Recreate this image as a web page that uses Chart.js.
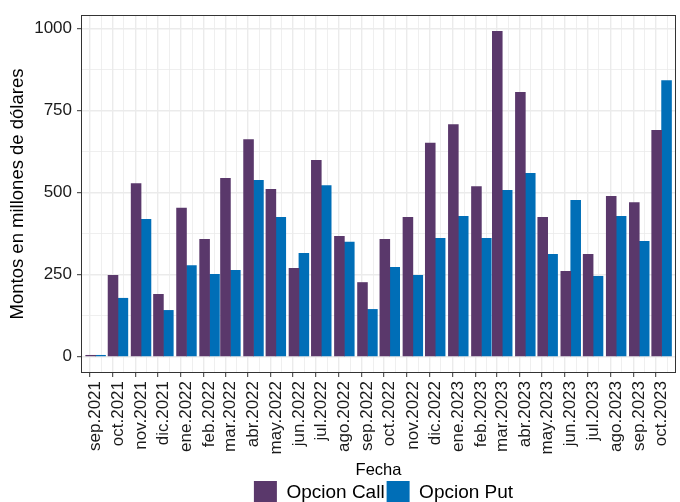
<!DOCTYPE html>
<html>
<head>
<meta charset="utf-8">
<script src="https://cdn.jsdelivr.net/npm/chart.js@4"></script>
<style>
html,body{margin:0;padding:0;background:#fff;overflow:hidden}
canvas{display:block}
</style>
</head>
<body>
<canvas id="c" width="680" height="514"></canvas>
<script>
// ---- data ----
const monthDates = ['2021-09-01','2021-10-01','2021-11-01','2021-12-01','2022-01-01','2022-02-01','2022-03-01','2022-04-01','2022-05-01','2022-06-01','2022-07-01','2022-08-01','2022-09-01','2022-10-01','2022-11-01','2022-12-01','2023-01-01','2023-02-01','2023-03-01','2023-04-01','2023-05-01','2023-06-01','2023-07-01','2023-08-01','2023-09-01','2023-10-01'];
const tickLabels = ['sep.2021','oct.2021','nov.2021','dic.2021','ene.2022','feb.2022','mar.2022','abr.2022','may.2022','jun.2022','jul.2022','ago.2022','sep.2022','oct.2022','nov.2022','dic.2022','ene.2023','feb.2023','mar.2023','abr.2023','may.2023','jun.2023','jul.2023','ago.2023','sep.2023','oct.2023'];
const opcionCall = [4, 248, 528, 190, 453, 358, 544, 662, 510, 269, 599, 367, 226, 358, 425, 651, 708, 519, 992, 806, 425, 260, 312, 489, 470, 690];
const opcionPut  = [4, 178, 419, 141, 278, 251, 263, 538, 425, 315, 522, 349, 144, 272, 248, 361, 428, 361, 507, 559, 312, 477, 245, 428, 352, 842];
const yTickValues = [0, 250, 500, 750, 1000];

// ---- derived (x as days since first month) ----
const DAY = 86400000;
const t0 = Date.parse(monthDates[0]);
const xDays = monthDates.map(d => Math.round((Date.parse(d) - t0) / DAY));
const xMinor = xDays.slice(1).map((d, i) => (d + xDays[i]) / 2);
const xAllTicks = xDays.concat(xMinor).sort((a, b) => a - b);
const yMinor = yTickValues.slice(1).map((v, i) => (v + yTickValues[i]) / 2);
const yAllTicks = yTickValues.concat(yMinor).sort((a, b) => a - b);

const FONT = '"Liberation Sans", Arial, Helvetica, sans-serif';
const GRID = '#ebebeb';
const AXIS = '#333333';

const isMajorX = ctx => ctx.tick && xDays.includes(ctx.tick.value);
const isMajorY = ctx => ctx.tick && yTickValues.includes(ctx.tick.value);

const framePlugin = {
  id: 'frame',
  afterLayout(chart) {
    // centre the legend like the reference (slightly right of the panel centre)
    if (chart.legend) { chart.legend.left += 5; chart.legend.right += 5; }
  },
  afterDraw(chart) {
    const a = chart.chartArea, ctx = chart.ctx;
    ctx.save();
    ctx.strokeStyle = AXIS;
    ctx.lineWidth = 1;
    ctx.strokeRect(a.left + 0.5, a.top + 0.5, a.right - a.left - 1, a.bottom - a.top - 1);
    ctx.restore();
  }
};

new Chart(document.getElementById('c'), {
  type: 'bar',
  data: {
    datasets: [
      { label: 'Opcion Call', data: xDays.map((x, i) => ({ x, y: opcionCall[i] })), backgroundColor: '#5a386b', borderWidth: 0 },
      { label: 'Opcion Put',  data: xDays.map((x, i) => ({ x, y: opcionPut[i] })),  backgroundColor: '#006eb7', borderWidth: 0 }
    ]
  },
  options: {
    responsive: false,
    animation: false,
    events: [],
    datasets: { bar: { barThickness: 9.9 } },
    layout: { padding: { top: 15, right: 4, left: 0, bottom: 0 } },
    plugins: {
      tooltip: { enabled: false },
      legend: {
        position: 'bottom',
        fullSize: false,
        labels: { boxWidth: 23, boxHeight: 23, padding: 2, color: '#000', font: { size: 19, family: FONT } }
      }
    },
    scales: {
      x: {
        type: 'linear',
        min: -11.8,
        max: 771.5,
        afterBuildTicks: s => { s.ticks = xAllTicks.map(v => ({ value: v })); },
        afterFit: s => { s.height = 106; s.paddingLeft = 0; s.paddingRight = 0; },
        ticks: {
          autoSkip: false, minRotation: 90, maxRotation: 90, padding: 4,
          color: '#1a1a1a', font: { size: 17, family: FONT },
          callback: v => { const i = xDays.indexOf(v); return i >= 0 ? tickLabels[i] : ''; }
        },
        grid: {
          color: GRID,
          lineWidth: ctx => isMajorX(ctx) ? 1.4 : 0.8,
          tickLength: 4,
          tickWidth: 1,
          tickColor: ctx => isMajorX(ctx) ? AXIS : 'rgba(0,0,0,0)'
        },
        border: { display: false },
        title: { display: true, text: 'Fecha', color: '#000', font: { size: 16.5, family: FONT }, padding: { top: 0, bottom: -1 } }
      },
      y: {
        min: -50,
        max: 1042,
        afterBuildTicks: s => { s.ticks = yAllTicks.map(v => ({ value: v })); },
        afterFit: s => { s.width = 81; s.paddingTop = 0; s.paddingBottom = 0; },
        ticks: {
          padding: 5, color: '#1a1a1a', font: { size: 17, family: FONT },
          callback: v => yTickValues.includes(v) ? String(v) : ''
        },
        grid: {
          color: GRID,
          lineWidth: ctx => isMajorY(ctx) ? 1.4 : 0.8,
          tickLength: 4,
          tickWidth: 1,
          tickColor: ctx => isMajorY(ctx) ? AXIS : 'rgba(0,0,0,0)'
        },
        border: { display: false },
        title: { display: true, text: 'Montos en millones de dólares', color: '#000', font: { size: 18.5, family: FONT }, padding: { top: 7, bottom: 0 } }
      }
    }
  },
  plugins: [framePlugin]
});
</script>
</body>
</html>
